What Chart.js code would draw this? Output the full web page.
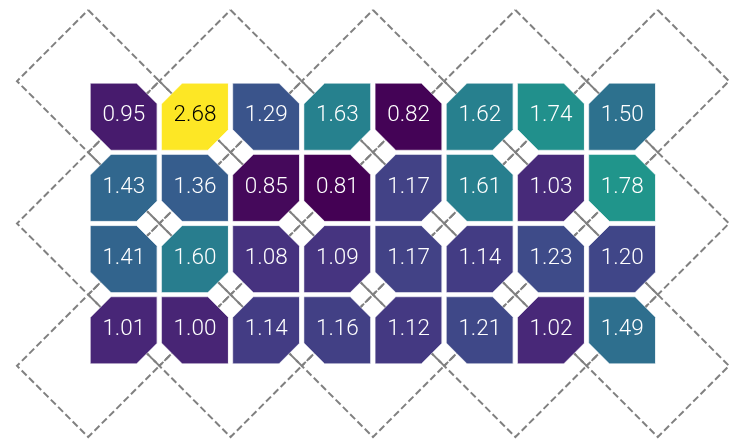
<!DOCTYPE html>
<html>
<head>
<meta charset="utf-8">
<script src="https://cdn.jsdelivr.net/npm/chart.js@4.4.1/dist/chart.umd.min.js"></script>
<style>
  html, body { margin: 0; padding: 0; background: #fff; }
  #wrap { width: 747px; height: 448px; position: relative; }
</style>
</head>
<body>
<div id="wrap"><canvas id="gridChart"></canvas></div>
<script>
const rowIndex = [0, 1, 2, 3];
const colIndex = [0, 1, 2, 3, 4, 5, 6, 7];

const row0 = [0.95, 2.68, 1.29, 1.63, 0.82, 1.62, 1.74, 1.50];
const row1 = [1.43, 1.36, 0.85, 0.81, 1.17, 1.61, 1.03, 1.78];
const row2 = [1.41, 1.60, 1.08, 1.09, 1.17, 1.14, 1.23, 1.20];
const row3 = [1.01, 1.00, 1.14, 1.16, 1.12, 1.21, 1.02, 1.49];
const rows = [row0, row1, row2, row3];

(function () {
  const canvas = document.getElementById('gridChart');
  if (!canvas || typeof Chart === 'undefined') {
    return;
  }

  // viridis anchors
  const viridis = [
    [0.00, '#440154'], [0.05, '#471365'], [0.10, '#482475'], [0.15, '#463480'],
    [0.20, '#414487'], [0.25, '#3b528b'], [0.30, '#355f8d'], [0.35, '#2f6c8e'],
    [0.40, '#2a788e'], [0.45, '#25848e'], [0.50, '#21918c'], [0.55, '#1e9c89'],
    [0.60, '#22a884'], [0.70, '#44bf70'], [0.80, '#7ad151'], [0.90, '#bddf26'],
    [1.00, '#fde725'],
  ];
  const hex = (h) => [1, 3, 5].map((i) => parseInt(h.slice(i, i + 2), 16));
  function colorAt(t) {
    t = Math.max(0, Math.min(1, t));
    for (let i = 1; i < viridis.length; i++) {
      if (t <= viridis[i][0]) {
        const [t0, c0] = viridis[i - 1];
        const [t1, c1] = viridis[i];
        const f = (t - t0) / (t1 - t0);
        const a = hex(c0), b = hex(c1);
        return 'rgb(' + a.map((v, k) => Math.round(v + (b[k] - v) * f)).join(',') + ')';
      }
    }
    return viridis[viridis.length - 1][1];
  }

  const all = rows.flat();
  const vmin = Math.min(...all);
  const vmax = Math.max(...all);
  const norm = (v) => (v - vmin) / (vmax - vmin);

  const half = 0.47;
  const cut = 0.29;
  const datasets = [];

  // dashed diamonds centred on every other cell corner
  for (let j = 0; j <= rowIndex.length; j++) {
    const cy = j - 0.5;
    for (let cx = -0.5 + (j % 2); cx <= colIndex.length - 0.5; cx += 2) {
      datasets.push({
        data: [
          { x: cx, y: cy - 1 }, { x: cx + 1, y: cy }, { x: cx, y: cy + 1 },
          { x: cx - 1, y: cy }, { x: cx, y: cy - 1 },
        ],
        showLine: true,
        borderColor: '#808080',
        borderWidth: 2,
        borderDash: [7, 3.3],
        pointRadius: 0,
        fill: false,
        clip: false,
        order: 2,
      });
    }
  }

  // octagonal cells, corners cut where the diagonals cross
  rowIndex.forEach((r) => {
    colIndex.forEach((c) => {
      const v = rows[r][c];
      let pts;
      if ((r + c) % 2 === 0) {
        pts = [
          [c - half, r - half], [c + half - cut, r - half], [c + half, r - half + cut],
          [c + half, r + half], [c - half + cut, r + half], [c - half, r + half - cut],
        ];
      } else {
        pts = [
          [c - half, r - half + cut], [c - half + cut, r - half], [c + half, r - half],
          [c + half, r + half - cut], [c + half - cut, r + half], [c - half, r + half],
        ];
      }
      pts.push(pts[0]);
      datasets.push({
        data: pts.map(([x, y]) => ({ x, y })),
        showLine: true,
        backgroundColor: colorAt(norm(v)),
        borderColor: 'rgba(255,255,255,0.5)',
        borderWidth: 1,
        pointRadius: 0,
        fill: 'shape',
        tension: 0,
        order: 1,
      });
    });
  });

  const cellLabels = {
    id: 'cellLabels',
    afterDatasetsDraw(chart) {
      const { ctx, scales } = chart;
      ctx.save();
      ctx.font = '300 22.5px Roboto';
      ctx.textAlign = 'center';
      ctx.textBaseline = 'middle';
      rowIndex.forEach((r) => {
        colIndex.forEach((c) => {
          const v = rows[r][c];
          ctx.fillStyle = norm(v) > 0.6 ? '#000000' : '#ffffff';
          ctx.fillText(v.toFixed(2), scales.x.getPixelForValue(c), scales.y.getPixelForValue(r) - 1);
        });
      });
      ctx.restore();
    },
  };

  new Chart(canvas, {
    type: 'scatter',
    data: { datasets },
    options: {
      responsive: true,
      maintainAspectRatio: false,
      animation: false,
      events: [],
      layout: { padding: { left: 17, right: 18, top: 10, bottom: 11 } },
      scales: {
        x: { type: 'linear', min: -1.5, max: 8.5, display: false },
        y: { type: 'linear', min: -1.5, max: 4.5, reverse: true, display: false },
      },
      plugins: {
        legend: { display: false },
        tooltip: { enabled: false },
      },
    },
    plugins: [cellLabels],
  });
})();
</script>
</body>
</html>
